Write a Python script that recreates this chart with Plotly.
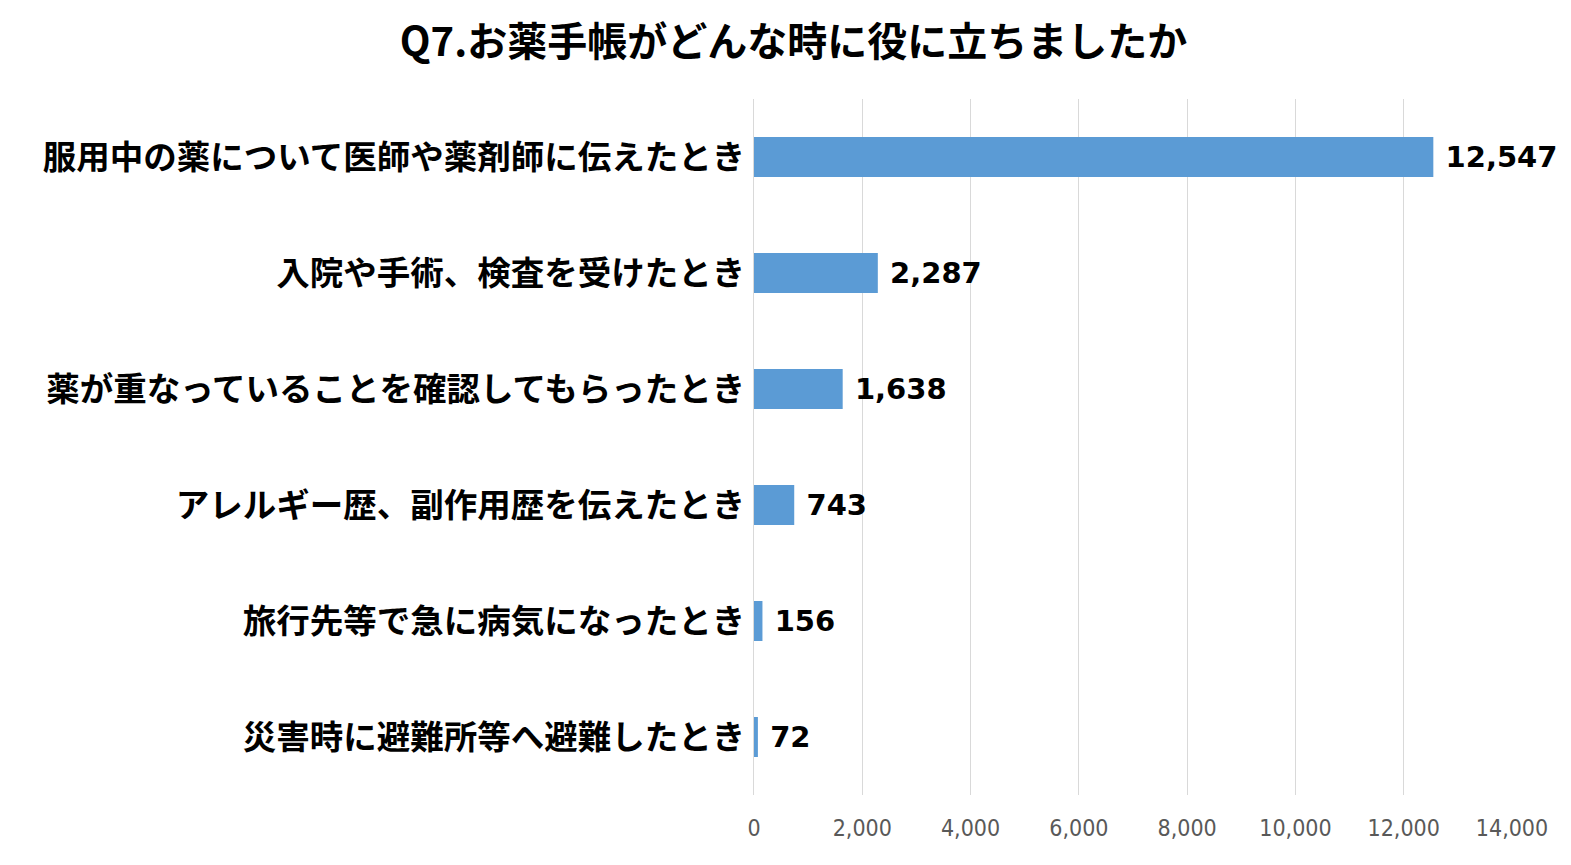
import plotly.graph_objects as go

title = "Q7.お薬手帳がどんな時に役に立ちましたか"
categories = [
    "服用中の薬について医師や薬剤師に伝えたとき",
    "入院や手術、検査を受けたとき",
    "薬が重なっていることを確認してもらったとき",
    "アレルギー歴、副作用歴を伝えたとき",
    "旅行先等で急に病気になったとき",
    "災害時に避難所等へ避難したとき",
]
values = [12547, 2287, 1638, 743, 156, 72]
x_ticks = [0, 2000, 4000, 6000, 8000, 10000, 12000, 14000]
x_tick_labels = ["0", "2,000", "4,000", "6,000", "8,000", "10,000", "12,000", "14,000"]

jp = "Noto Sans CJK JP"

fig = go.Figure(go.Bar(
    x=values,
    y=categories,
    orientation="h",
    marker=dict(color="#5B9BD5", line=dict(width=0)),
    text=[f" <b>{v:,}</b>" for v in values],
    textposition="outside",
    textfont=dict(family="DejaVu Sans", size=29, color="#000000"),
    cliponaxis=False,
    hoverinfo="skip",
))

fig.update_layout(
    width=1571, height=865,
    paper_bgcolor="white", plot_bgcolor="white",
    margin=dict(l=746, r=67, t=91, b=78),
    bargap=0.655,
    showlegend=False,
    title=dict(text="<b>" + title + "</b>", x=0.5, xanchor="center", y=0.961, yanchor="middle",
               font=dict(family=jp, size=40, color="#000000")),
    xaxis=dict(
        range=[0, 14000], tickvals=x_ticks, ticktext=x_tick_labels,
        showgrid=True, gridcolor="#D9D9D9", gridwidth=1,
        zeroline=False, showline=False, ticks="",
        tickfont=dict(family="Liberation Sans Narrow, DejaVu Sans Condensed, sans-serif", size=23, color="#595959"),
        ticklabelstandoff=17,
    ),
    yaxis=dict(
        autorange="reversed", showgrid=False, zeroline=False,
        showline=True, linecolor="#D9D9D9", linewidth=1, ticks="",
        tickfont=dict(family=jp, size=33.5, color="#000000"),
        ticklabelstandoff=1,
        tickvals=categories,
        ticktext=["<b>" + c + "</b>" for c in categories],
    ),
)

fig.write_html("out.html")
